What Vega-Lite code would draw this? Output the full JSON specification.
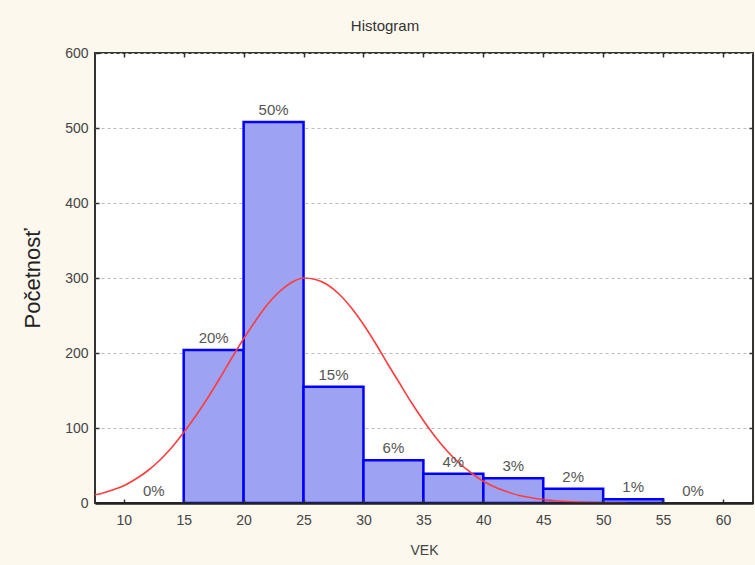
{
  "$schema": "https://vega.github.io/schema/vega-lite/v6.json",
  "width": 658,
  "height": 450,
  "autosize": {"type": "none"},
  "padding": {"left": 95, "top": 53, "right": 2, "bottom": 62},
  "background": "#fcf8ee",
  "title": {
    "text": "Histogram",
    "fontSize": 15,
    "fontWeight": "normal",
    "font": "Liberation Sans",
    "color": "#333333",
    "anchor": "middle",
    "baseline": "alphabetic",
    "offset": 0,
    "dx": -39
  },
  "config": {
    "font": "Liberation Sans",
    "view": {"stroke": "#333333", "strokeWidth": 2, "fill": "#ffffff"}
  },
  "datasets": {
    "bins": [
      {"start": 10, "end": 15, "center": 12.5, "count": 0, "label": "0%"},
      {"start": 15, "end": 20, "center": 17.5, "count": 204, "label": "20%"},
      {"start": 20, "end": 25, "center": 22.5, "count": 508, "label": "50%"},
      {"start": 25, "end": 30, "center": 27.5, "count": 155, "label": "15%"},
      {"start": 30, "end": 35, "center": 32.5, "count": 57, "label": "6%"},
      {"start": 35, "end": 40, "center": 37.5, "count": 39, "label": "4%"},
      {"start": 40, "end": 45, "center": 42.5, "count": 33, "label": "3%"},
      {"start": 45, "end": 50, "center": 47.5, "count": 19, "label": "2%"},
      {"start": 50, "end": 55, "center": 52.5, "count": 5, "label": "1%"},
      {"start": 55, "end": 60, "center": 57.5, "count": 0, "label": "0%"}
    ],
    "curve": [
      {"vek": 7.6, "n": 11},
      {"vek": 8, "n": 12},
      {"vek": 9, "n": 17},
      {"vek": 10, "n": 23},
      {"vek": 11, "n": 32},
      {"vek": 12, "n": 43},
      {"vek": 13, "n": 57},
      {"vek": 14, "n": 74},
      {"vek": 15, "n": 94},
      {"vek": 16, "n": 116},
      {"vek": 17, "n": 140},
      {"vek": 18, "n": 166},
      {"vek": 19, "n": 193},
      {"vek": 20, "n": 219},
      {"vek": 21, "n": 243},
      {"vek": 22, "n": 265},
      {"vek": 23, "n": 282},
      {"vek": 24, "n": 294},
      {"vek": 25, "n": 300},
      {"vek": 26, "n": 298},
      {"vek": 27, "n": 291},
      {"vek": 28, "n": 278},
      {"vek": 29, "n": 260},
      {"vek": 30, "n": 238},
      {"vek": 31, "n": 213},
      {"vek": 32, "n": 186},
      {"vek": 33, "n": 160},
      {"vek": 34, "n": 134},
      {"vek": 35, "n": 110},
      {"vek": 36, "n": 88},
      {"vek": 37, "n": 69},
      {"vek": 38, "n": 53},
      {"vek": 39, "n": 40},
      {"vek": 40, "n": 29},
      {"vek": 41, "n": 21},
      {"vek": 42, "n": 15},
      {"vek": 43, "n": 10},
      {"vek": 44, "n": 7},
      {"vek": 45, "n": 4.5},
      {"vek": 46, "n": 3},
      {"vek": 47, "n": 1.8},
      {"vek": 48, "n": 1.1},
      {"vek": 49, "n": 0.6},
      {"vek": 50, "n": 0.3},
      {"vek": 52, "n": 0}
    ]
  },
  "layer": [
    {
      "data": {"name": "bins"},
      "transform": [{"filter": "datum.count > 0"}],
      "mark": {"type": "bar", "fill": "#9ea2f2", "stroke": "#0000ff", "strokeWidth": 2.5, "clip": true},
      "encoding": {
        "x": {
          "field": "start", "type": "quantitative",
          "scale": {"domain": [7.6, 62.5], "nice": false, "zero": false},
          "axis": {
            "orient": "bottom", "values": [10, 15, 20, 25, 30, 35, 40, 45, 50, 55, 60],
            "grid": false, "domain": true, "domainColor": "#222222", "domainWidth": 2.5, "zindex": 1,
            "tickSize": -4, "tickColor": "#333333", "tickWidth": 1.5,
            "labelPadding": 14, "labelFontSize": 14, "labelColor": "#444444",
            "title": "VEK", "titleFontSize": 14, "titleFontWeight": "normal", "titleColor": "#444444", "titlePadding": 16
          }
        },
        "x2": {"field": "end"},
        "y": {
          "field": "count", "type": "quantitative",
          "scale": {"domain": [0, 600], "nice": false},
          "axis": {
            "orient": "left", "values": [0, 100, 200, 300, 400, 500, 600],
            "grid": true, "gridDash": [3, 3], "gridColor": "#bbbbbb", "gridWidth": 1,
            "domain": false, "tickSize": -4, "tickColor": "#333333", "tickWidth": 1.5,
            "labelPadding": 11, "labelFontSize": 14, "labelColor": "#444444",
            "title": "Početnosť", "titleFontSize": 22, "titleFontWeight": "normal", "titleColor": "#222222",
            "titleX": -63, "titleY": 225, "titleBaseline": "middle", "titleAngle": -90
          }
        },
        "y2": {"datum": 0}
      }
    },
    {
      "data": {"name": "curve"},
      "mark": {"type": "line", "color": "#ff3c3c", "strokeWidth": 1.6, "interpolate": "monotone", "clip": true},
      "encoding": {
        "x": {
          "field": "vek", "type": "quantitative",
          "axis": {
            "orient": "top", "values": [10, 15, 20, 25, 30, 35, 40, 45, 50, 55, 60],
            "labels": false, "grid": false, "domain": false, "tickSize": -4, "tickColor": "#333333", "tickWidth": 1.5, "title": null
          }
        },
        "y": {
          "field": "n", "type": "quantitative",
          "axis": {
            "orient": "right", "values": [100, 200, 300, 400, 500],
            "labels": false, "grid": false, "domain": false, "tickSize": -4, "tickColor": "#333333", "tickWidth": 1.5, "title": null
          }
        }
      }
    },
    {
      "data": {"name": "bins"},
      "mark": {"type": "text", "dy": -12, "baseline": "middle", "align": "center", "fontSize": 15, "color": "#555555"},
      "encoding": {
        "x": {"field": "center", "type": "quantitative", "axis": null},
        "y": {"field": "count", "type": "quantitative", "axis": null},
        "text": {"field": "label"}
      }
    }
  ],
  "resolve": {"axis": {"x": "independent", "y": "independent"}}
}
